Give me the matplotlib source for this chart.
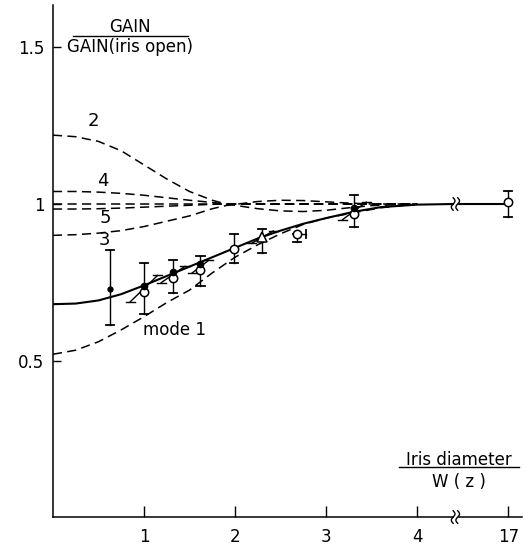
import numpy as np
import matplotlib.pyplot as plt

# x values above the break are drawn at 5.0 (the "17" tick)
BREAK_X = 4.42
FAR_X = 17
FAR_POS = 5.0


def xpos(x):
    x = np.asarray(x, dtype=float)
    return np.where(x > 10, FAR_POS, x)


# theory curves (dashed)
x_theory = [0, 0.25, 0.5, 0.75, 1.0, 1.25, 1.5, 1.75, 1.9, 2.25, 2.5, 2.75, 3.0, 3.25, 3.5, 4.0]
mode2 = [1.22, 1.215, 1.20, 1.17, 1.125, 1.08, 1.04, 1.012, 1.0, 0.985, 0.978, 0.976, 0.98, 0.988, 0.995, 1.0]
mode3 = [0.90, 0.902, 0.907, 0.915, 0.928, 0.945, 0.962, 0.985, 0.995, 1.008, 1.012, 1.011, 1.007, 1.003, 1.0, 1.0]
mode4 = [1.04, 1.04, 1.038, 1.034, 1.028, 1.02, 1.012, 1.005, 1.0, 1.0, 1.0, 1.0, 1.0, 1.0, 1.0, 1.0]
mode5 = [0.984, 0.984, 0.985, 0.987, 0.99, 0.993, 0.996, 0.999, 1.0, 1.0, 1.0, 1.0, 1.0, 1.0, 1.0, 1.0]
mode_hi = [1.0, 1.0, 1.0, 1.0, 1.0, 1.0, 1.0, 1.0, 1.0, 1.0, 1.0, 1.0, 1.0, 1.0, 1.0, 1.0]

x_mode1 = [0, 0.25, 0.5, 0.75, 1.0, 1.25, 1.5, 1.75, 2.0, 2.25, 2.5, 2.75, 3.0, 3.3, 3.6, 4.0]
mode1 = [0.52, 0.533, 0.56, 0.598, 0.64, 0.685, 0.725, 0.78, 0.83, 0.87, 0.905, 0.935, 0.955, 0.972, 0.988, 1.0]

# solid curve (sum of modes)
x_solid = [0, 0.25, 0.5, 0.75, 1.0, 1.25, 1.5, 1.75, 2.0, 2.25, 2.5, 2.75, 3.0, 3.3, 3.6, 4.0, 4.4, 17]
solid = [0.68, 0.682, 0.692, 0.712, 0.74, 0.77, 0.80, 0.83, 0.86, 0.89, 0.915, 0.937, 0.955, 0.975, 0.99, 0.998, 1.0, 1.0]

# measurements
x_meas = [0.63, 1.0, 1.32, 1.62, 1.99, 2.3, 2.68, 3.31, 17]
y_meas = [0.73, 0.73, 0.775, 0.80, 0.856, 0.894, 0.905, 0.978, 1.005]
y_lo = [0.615, 0.65, 0.716, 0.738, 0.81, 0.843, 0.88, 0.926, 0.96]
y_hi = [0.853, 0.81, 0.82, 0.834, 0.904, 0.92, 0.905, 1.03, 1.04]
marker_kind = ["filled", "both", "both", "both", "open", "triangle", "open", "both", "open"]
# slanted bars: half width in x and y
slant_dx = [0, 0.15, 0.13, 0.09, 0, 0.12, 0, 0.13, 0]
slant_dy = [0, 0.042, 0.026, 0.02, 0, 0.02, 0, 0.028, 0]
xerr_right = [0, 0, 0, 0, 0, 0, 0.1, 0, 0]

x_ticks = [1, 2, 3, 4, 17]
y_ticks = [0.5, 1.0, 1.5]
y_tick_labels = ["0.5", "1", "1.5"]

plt.rcParams["font.family"] = "DejaVu Sans"

fig = plt.figure(figsize=(5.24, 5.46), dpi=100)
ax = fig.add_axes([0.101, 0.053, 0.895, 0.938])

dash = (0, (6, 3.5))
lw_d = 1.1
for ys in [mode2, mode3, mode4, mode5, mode_hi]:
    ax.plot(x_theory, ys, color="black", lw=lw_d, linestyle=dash)
ax.plot(x_mode1, mode1, color="black", lw=lw_d, linestyle=dash)

xs = xpos(x_solid)
ax.plot(xs, solid, color="black", lw=1.5)

# measurement points
for i in range(len(x_meas)):
    xp = float(xpos(x_meas[i]))
    y = y_meas[i]
    ax.plot([xp, xp], [y_lo[i], y_hi[i]], color="black", lw=1.0)
    cap = 0.045
    for yc in (y_lo[i], y_hi[i]):
        ax.plot([xp - cap, xp + cap], [yc, yc], color="black", lw=1.3)
    if slant_dx[i] > 0:
        x0, x1 = xp - slant_dx[i], xp + slant_dx[i]
        y0, y1 = y - slant_dy[i], y + slant_dy[i]
        ax.plot([x0, x1], [y0, y1], color="black", lw=1.0)
        ax.plot([x0 - 0.05, x0 + 0.05], [y0, y0], color="black", lw=1.0)
        ax.plot([x1 - 0.05, x1 + 0.05], [y1, y1], color="black", lw=1.0)
    if xerr_right[i] > 0:
        ax.plot([xp, xp + xerr_right[i]], [y, y], color="black", lw=1.0)
        ax.plot([xp + xerr_right[i]] * 2, [y - 0.012, y + 0.012], color="black", lw=1.3)
    kind = marker_kind[i]
    if kind == "filled":
        ax.plot(xp, y, "o", color="black", ms=3.5)
    elif kind == "open":
        ax.plot(xp, y, "o", mfc="white", mec="black", mew=1.1, ms=6)
    elif kind == "both":
        ax.plot(xp, y - 0.01, "o", mfc="white", mec="black", mew=1.1, ms=6)
        ax.plot(xp, y + 0.008, "o", color="black", ms=4.5)
    elif kind == "triangle":
        ax.plot(xp, y, "^", mfc="white", mec="black", mew=1.1, ms=7)

# axis break marks (on axis and on solid curve)
for yb in (0.0, 1.0):
    t = np.linspace(-1, 1, 20)
    for off in (-0.025, 0.025):
        ax.plot(BREAK_X + off + 0.02 * np.sin(t * np.pi), yb + 0.02 * t,
                color="black", lw=1.0, clip_on=False, zorder=5)
    ax.fill_betweenx([yb - 0.01, yb + 0.01], BREAK_X - 0.02, BREAK_X + 0.02,
                     color="white", zorder=4, clip_on=False)

# mode labels
fs = 13
ax.text(0.44, 1.265, "2", fontsize=fs, ha="center", va="center")
ax.text(0.55, 1.075, "4", fontsize=fs, ha="center", va="center")
ax.text(0.57, 0.955, "5", fontsize=fs, ha="center", va="center")
ax.text(0.57, 0.885, "3", fontsize=fs, ha="center", va="center")
ax.text(1.33, 0.597, "mode 1", fontsize=12, ha="center", va="center")

# y-axis label (fraction)
ax.text(0.85, 1.567, "GAIN", fontsize=12, ha="center", va="center")
ax.plot([0.22, 1.48], [1.537, 1.537], color="black", lw=1.0)
ax.text(0.85, 1.503, "GAIN(iris open)", fontsize=12, ha="center", va="center")

# x-axis label (fraction)
ax.text(4.46, 0.182, "Iris diameter", fontsize=12, ha="center", va="center")
ax.plot([3.8, 5.12], [0.16, 0.16], color="black", lw=1.0)
ax.text(4.46, 0.113, "W ( z )", fontsize=12, ha="center", va="center")

ax.set_xlim(0, 5.15)
ax.set_ylim(0, 1.636)
ax.set_xticks(xpos(x_ticks))
ax.set_xticklabels([str(v) for v in x_ticks], fontsize=12)
ax.set_yticks(y_ticks)
ax.set_yticklabels(y_tick_labels, fontsize=12)
ax.tick_params(axis="x", direction="in", length=8, width=1, pad=8)
ax.tick_params(axis="y", direction="in", length=6, width=1, pad=6)
ax.spines["top"].set_visible(False)
ax.spines["right"].set_visible(False)
for s in ("left", "bottom"):
    ax.spines[s].set_linewidth(1.1)

fig.savefig("out.png", dpi=100)
